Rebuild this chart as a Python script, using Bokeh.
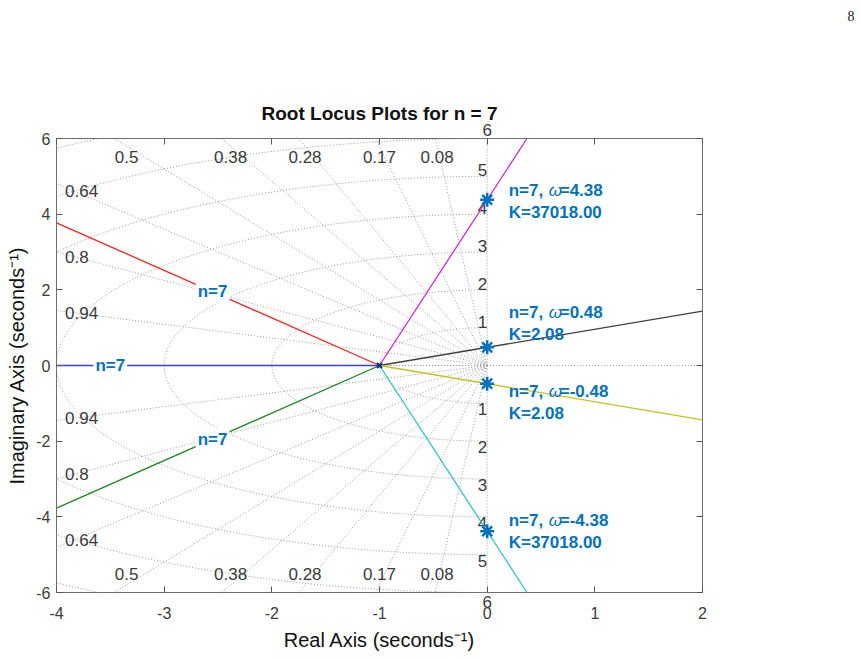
import numpy as np
from bokeh.plotting import figure
from bokeh.models import Range1d, LinearAxis, FixedTicker, Label, ColumnDataSource, Title
from bokeh.embed import file_html
from bokeh.resources import INLINE
from bokeh.core.properties import value

# ---------------- data ----------------
n_order = 7
pole_x = [-1.0]
pole_y = [0.0]
# end points of the seven root-locus branches (where they leave the axes box)
branch_end_x = [-4.0, -4.0, -4.0, 0.37, 0.37, 2.0, 2.0]
branch_end_y = [0.0, 3.77, -3.77, 6.0, -6.0, 1.44, -1.44]
branch_names = ["blue", "red", "green", "magenta", "cyan", "black", "yellow"]
# imaginary-axis crossings / marked points and their gains
cross_omega = [4.38, 0.48, -0.48, -4.38]
cross_gain = [37018.00, 2.08, 2.08, 37018.00]
# grid values
zeta_values = [0.08, 0.17, 0.28, 0.38, 0.5, 0.64, 0.8, 0.94]
zeta_labels = ["0.08", "0.17", "0.28", "0.38", "0.5", "0.64", "0.8", "0.94"]
wn_values = [1, 2, 3, 4, 5, 6, 7]
wn_labels = ["1", "2", "3", "4", "5"]
wn_edge_label = "6"
x_ticks = [-4, -3, -2, -1, 0, 1, 2]
y_ticks = [-6, -4, -2, 0, 2, 4, 6]
page_number = "8"

# ---------------- styles ----------------
branch_colors = {"blue": "#3c3cff", "red": "#ff1f1f", "green": "#1f861f", "magenta": "#cc2ccc",
                 "cyan": "#2ec4c4", "black": "#404040", "yellow": "#c4c41c"}
ann_color = "#0072BD"
grid_color = "#9a9a9a"
text_color = "#3a3a3a"
tick_color = "#555555"
FONT = "Liberation Sans"

p = figure(width=861, height=659, x_range=Range1d(-4, 2), y_range=Range1d(-6, 6),
           output_backend="svg", toolbar_location=None, title=None,
           x_axis_location=None, y_axis_location="left",
           min_border_left=56, min_border_right=159, min_border_top=138, min_border_bottom=67)
p.xgrid.visible = False
p.ygrid.visible = False
p.outline_line_color = "#6e6e6e"
p.outline_line_width = 1
p.background_fill_color = "white"
p.border_fill_color = "white"


def style_axis(ax):
    ax.axis_line_color = None
    ax.major_tick_in = 6
    ax.major_tick_out = 0
    ax.minor_tick_line_color = None
    ax.major_tick_line_color = tick_color
    ax.major_label_text_font = FONT
    ax.major_label_text_font_size = "16px"
    ax.major_label_text_color = "#3c3c3c"
    ax.axis_label_text_font = FONT
    ax.axis_label_text_font_size = "20px"
    ax.axis_label_text_font_style = "normal"
    ax.axis_label_text_color = "#111111"


# --- left axis (labels) ---
yax = p.yaxis[0]
style_axis(yax)
yax.ticker = FixedTicker(ticks=y_ticks)
yax.major_label_overrides = {t: str(t) for t in y_ticks}
yax.axis_label = "Imaginary Axis (seconds\u207B\u00B9)"
yax.major_label_standoff = 6
yax.axis_label_standoff = 5

# --- bottom: tick axis carrying the edge frequency label, then the labelled axis ---
bot_ticks = LinearAxis(ticker=FixedTicker(ticks=x_ticks))
style_axis(bot_ticks)
bot_ticks.major_label_overrides = {t: (wn_edge_label if t == 0 else "") for t in x_ticks}
bot_ticks.major_label_text_align = "right"
bot_ticks.major_label_text_font_size = "17px"
bot_ticks.major_label_text_color = text_color
bot_ticks.major_label_standoff = 3

xax = LinearAxis(ticker=FixedTicker(ticks=x_ticks), axis_label="Real Axis (seconds\u207B\u00B9)")
style_axis(xax)
xax.major_tick_line_color = None
xax.major_label_overrides = {t: str(t) for t in x_ticks}
xax.major_label_standoff = -4
xax.axis_label_standoff = 7
p.below = [bot_ticks, xax]

# --- top: tick axis carrying the edge frequency label ---
top_ax = LinearAxis(ticker=FixedTicker(ticks=x_ticks))
style_axis(top_ax)
top_ax.major_label_overrides = {t: (wn_edge_label if t == 0 else "") for t in x_ticks}
top_ax.major_label_text_align = "right"
top_ax.major_label_text_font_size = "17px"
top_ax.major_label_text_color = text_color
top_ax.major_label_standoff = 3
p.add_layout(top_ax, "above")

# --- right: ticks only ---
right_ax = LinearAxis(ticker=FixedTicker(ticks=y_ticks))
style_axis(right_ax)
right_ax.major_label_overrides = {t: "" for t in y_ticks}
right_ax.major_label_standoff = 0
p.add_layout(right_ax, "right")

# --- titles ---
p.add_layout(Title(text="Root Locus Plots for n = %d" % n_order, align="center",
                   text_font=FONT, text_font_size="19px", text_font_style="bold",
                   text_color="#111111", standoff=-7), "above")
# page number: a top-aligned title block (empty lines below lift it to the page corner)
p.add_layout(Title(text=page_number + "\n\n\n\n\n", align="left", offset=791, standoff=8,
                   vertical_align="top",
                   text_font="Liberation Serif", text_font_size="14px", text_font_style="normal",
                   text_color="#222222"), "above")

# ---------------- s-plane grid ----------------
L = 30.0
gx, gy = [], []
th = np.linspace(np.pi / 2, 3 * np.pi / 2, 300)
for r in wn_values:
    gx.append(list(r * np.cos(th)))
    gy.append(list(r * np.sin(th)))
for z in zeta_values + [0.0, 1.0]:
    for s in (1, -1):
        gx.append([0.0, -L * z])
        gy.append([0.0, s * L * np.sqrt(1 - z * z)])
gx.append([0.0, L])
gy.append([0.0, 0.0])
p.multi_line(gx, gy, line_color=grid_color, line_width=1, line_dash="1 2")

# zeta labels
zl_x, zl_y, zl_t, zl_align = [], [], [], []
for z, t in zip(zeta_values, zeta_labels):
    slope = np.sqrt(1 - z * z) / z
    for s in (1, -1):
        if 4.0 * slope > 6.0:      # ray leaves through top / bottom edge
            zl_x.append(-5.8 / slope)
            zl_y.append(s * 5.5)
            zl_align.append("center")
        else:                      # ray leaves through left edge
            zl_x.append(-3.92)
            zl_y.append(s * 3.84 * slope)
            zl_align.append("left")
        zl_t.append(t)
zsrc = ColumnDataSource(dict(x=zl_x, y=zl_y, t=zl_t, a=zl_align))
p.text(x="x", y="y", text="t", source=zsrc, text_align="a", text_baseline="middle",
       text_font=value(FONT), text_font_size="17px", text_color=text_color)

# natural-frequency labels (on the imaginary axis)
wx, wy, wt, wb = [], [], [], []
for r, t in zip(wn_values, wn_labels):
    wx += [0.0, 0.0]
    wy += [r, -r]
    wt += [t, t]
    wb += ["bottom", "top"]
wsrc = ColumnDataSource(dict(x=wx, y=wy, t=wt, b=wb))
p.text(x="x", y="y", text="t", source=wsrc, text_align="right", text_baseline="b",
       text_font=value(FONT), text_font_size="17px", text_color=text_color)

# ---------------- root-locus branches ----------------
for name, ex, ey in zip(branch_names, branch_end_x, branch_end_y):
    p.line([pole_x[0], ex], [pole_y[0], ey], line_color=branch_colors[name], line_width=1.3)

p.scatter(pole_x, pole_y, marker="x", size=7, line_color="#1a2a80", line_width=2)

# branch labels "n=7"
label_branch_x = {"blue": -3.5, "red": -2.55, "green": -2.55}
for name, ex, ey in zip(branch_names, branch_end_x, branch_end_y):
    if name in label_branch_x:
        lx = label_branch_x[name]
        ly = pole_y[0] + (ey - pole_y[0]) * (lx - pole_x[0]) / (ex - pole_x[0])
        p.add_layout(Label(x=lx, y=ly, text="n=%d" % n_order, text_align="center", text_baseline="middle",
                           text_font=FONT, text_font_size="17px", text_font_style="bold",
                           text_color=ann_color, background_fill_color="white", padding=2))

# marked crossing points
p.scatter([0.0] * len(cross_omega), cross_omega, marker="asterisk", size=14,
          line_color=ann_color, line_width=2.5)

ann_dy = [-0.05, 0.64, -0.5, 0.0]
ann_x = 0.2
for w, k, dy in zip(cross_omega, cross_gain, ann_dy):
    yy = w + dy
    p.text([ann_x], [yy], text=["n=%d," % n_order], text_align="left", text_baseline="middle",
           y_offset=-11, text_font=value(FONT), text_font_size="17px", text_font_style="bold",
           text_color=ann_color)
    p.text([ann_x], [yy], text=["\u03c9"], text_align="left", text_baseline="middle",
           x_offset=40, y_offset=-11, text_font=value(FONT), text_font_size="17px",
           text_font_style="italic", text_color=ann_color)
    p.text([ann_x], [yy], text=["=%.2f" % w], text_align="left", text_baseline="middle",
           x_offset=51, y_offset=-11, text_font=value(FONT), text_font_size="17px",
           text_font_style="bold", text_color=ann_color)
    p.text([ann_x], [yy], text=["K=%.2f" % k], text_align="left", text_baseline="middle",
           y_offset=11, text_font=value(FONT), text_font_size="17px", text_font_style="bold",
           text_color=ann_color)

open("out.html", "w").write(file_html(p, INLINE))
